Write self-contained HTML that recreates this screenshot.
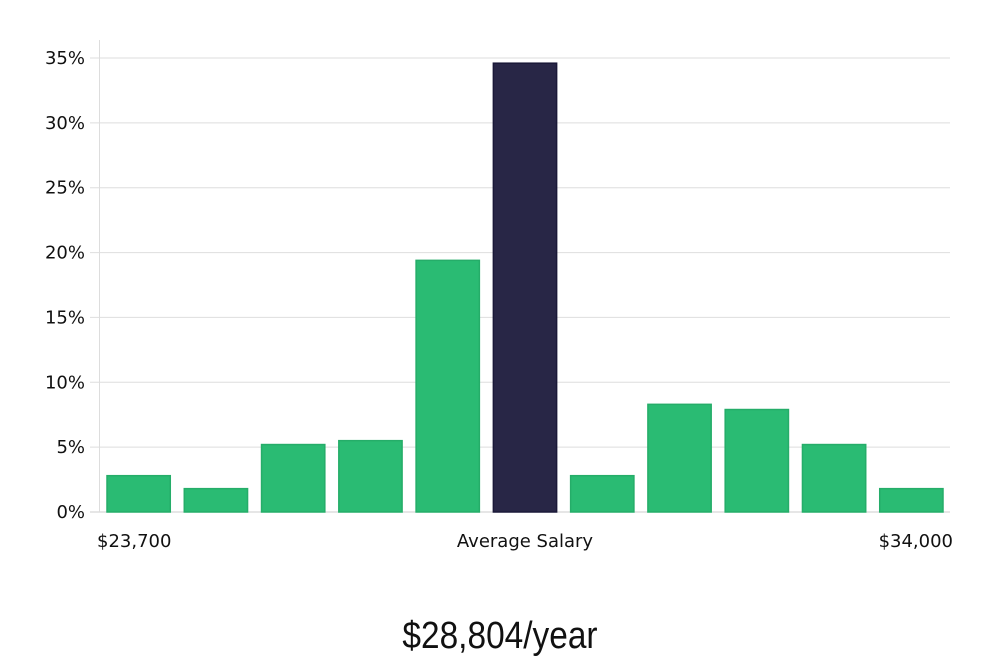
<!DOCTYPE html>
<html><head><meta charset="utf-8"><style>
body{margin:0;background:#fff;width:1000px;height:660px;overflow:hidden}
svg text{font-family:"DejaVu Sans","Liberation Sans",sans-serif}
</style></head><body>
<svg width="1000" height="660" id="chart"></svg>
<script>
const categories=["b1","b2","b3","b4","b5","b6","b7","b8","b9","b10","b11"];
const values=[2.8,1.8,5.2,5.5,19.4,34.6,2.8,8.3,7.9,5.2,1.8];
const highlight=[false,false,false,false,false,true,false,false,false,false,false];
const yTicks=[0,5,10,15,20,25,30,35];
const xLabels=["$23,700","Average Salary","$34,000"];
const NS="http://www.w3.org/2000/svg";
const svg=document.getElementById('chart');
const L=100,R=950,Y0=512,Y35=58;
const y=v=>Y0-(v/35)*(Y0-Y35);
const band=(R-L)/categories.length;
const x=i=>L+i*band;
function mk(t,a,p){const e=document.createElementNS(NS,t);for(const k in a)e.setAttribute(k,a[k]);(p||svg).appendChild(e);return e;}
yTicks.forEach(t=>{
 const g=mk('line',{x1:90,x2:R,y1:y(t),y2:y(t),stroke:t===0?'#ccc':'#dedede','stroke-width':1});
 
 
 const tx=mk('text',{x:85,y:y(t)+6,'text-anchor':'end','font-size':18,fill:'#111'});
 tx.textContent=t+'%';
 
 
});
const ax=mk('line',{x1:99.5,x2:99.5,y1:40,y2:Y0,stroke:'#ddd'});


values.forEach((v,i)=>{
 const hl=highlight[i];
 const r=mk('rect',{x:x(i)+7,y:y(v),width:band-14,height:Y0-y(v),fill:hl?'#282646':'#2abb73',stroke:hl?'#1a1838':'#25ad69','stroke-width':1.5});
 
 
});
[[97,'start'],[525,'middle'],[953,'end']].forEach((p,i)=>{
 const t=mk('text',{x:p[0],y:547,'text-anchor':p[1],'font-size':18,fill:'#111'});
 t.textContent=xLabels[i];
 
 
});
const ttl=mk('text',{x:500,y:648,'text-anchor':'middle','font-size':38,fill:'#111',transform:'translate(500 0) scale(0.88 1) translate(-500 0)'});
ttl.setAttribute('style','font-family:"Liberation Sans",sans-serif');
ttl.textContent='$28,804/year';


</script>
</body></html>
